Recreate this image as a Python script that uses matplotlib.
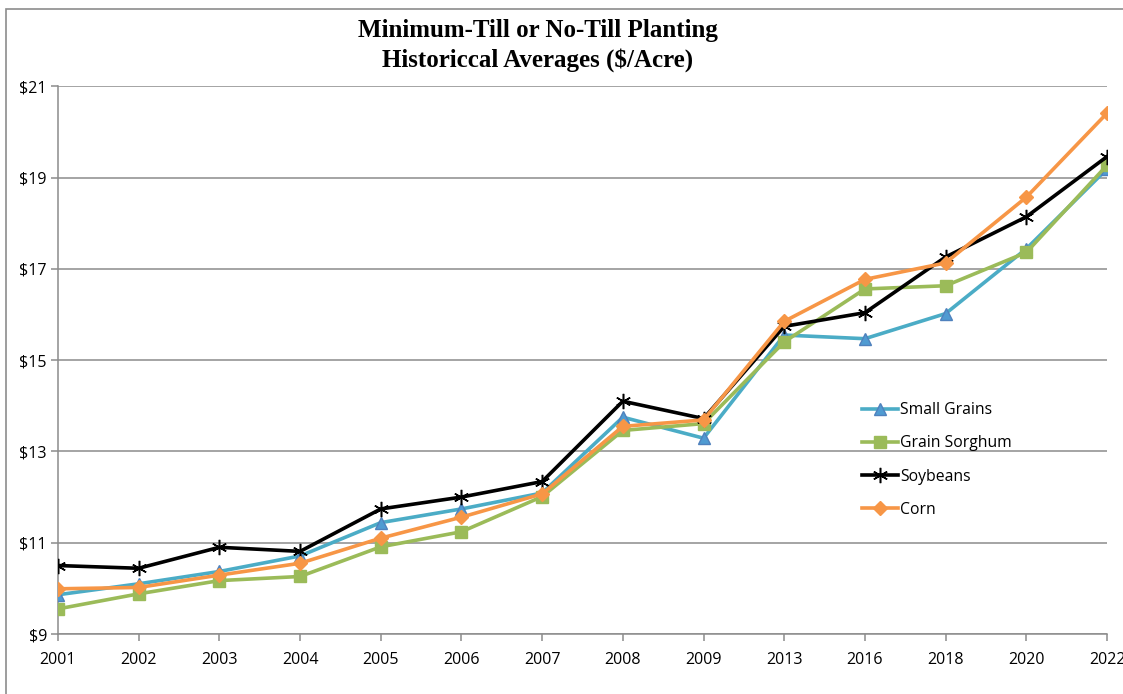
import numpy as np
import matplotlib
matplotlib.use('Agg')
import matplotlib.pyplot as plt
from matplotlib.patches import Rectangle
from matplotlib.ticker import FuncFormatter

#%% DATA
years = ['2001', '2002', '2003', '2004', '2005', '2006', '2007',
         '2008', '2009', '2013', '2016', '2018', '2020', '2022']

small_grains = [9.86, 10.10, 10.37, 10.71, 11.44, 11.74, 12.09,
                13.75, 13.29, 15.55, 15.47, 16.02, 17.44, 19.19]
grain_sorghum = [9.55, 9.88, 10.17, 10.26, 10.91, 11.24, 12.01,
                 13.46, 13.61, 15.40, 16.56, 16.63, 17.36, 19.27]
soybeans = [10.50, 10.44, 10.90, 10.81, 11.74, 12.00, 12.34,
            14.10, 13.72, 15.74, 16.04, 17.26, 18.14, 19.46]
corn = [9.99, 10.02, 10.29, 10.55, 11.10, 11.56, 12.07,
        13.55, 13.69, 15.85, 16.77, 17.13, 18.57, 20.41]

#%% PLOT
W, H = 1123, 694
fig = plt.figure(figsize=(W/100, H/100), dpi=100)

# chart border (clipped on right / bottom like the screenshot)
fig.patches.append(Rectangle((6/W, -0.05), 1.2, 1 - 9/H + 0.05, transform=fig.transFigure,
                             fill=False, edgecolor='#8c8c8c', linewidth=1.2))

ax = fig.add_axes([58/W, 1 - 634/H, (1107 - 58)/W, (634 - 86.3)/H])
x = np.arange(len(years))

lw = 2.6
ax.plot(x, small_grains, color='#4BACC6', lw=lw, marker='^', ms=9,
        mfc='#4F9BD2', mec='#4F81BD', mew=1, label='Small Grains', zorder=3)
ax.plot(x, grain_sorghum, color='#9BBB59', lw=lw, marker='s', ms=8.5,
        mfc='#9BBB59', mec='#9BBB59', label='Grain Sorghum', zorder=3)
ax.plot(x, soybeans, color='black', lw=lw, marker=(6, 2, 0), ms=11,
        mec='black', mew=1.1, label='Soybeans', zorder=4)
ax.plot(x, corn, color='#F79646', lw=lw, marker='D', ms=7,
        mfc='#F79646', mec='#F79646', label='Corn', zorder=5)

ax.set_xlim(0, len(years) - 1)
ax.set_ylim(9, 21)
ax.set_yticks(np.arange(9, 22, 2))
ax.yaxis.set_major_formatter(FuncFormatter(lambda v, p: '$%d' % v))
ax.set_xticks(x)
ax.set_xticklabels(years)

ax.grid(True, axis='y', color='#8c8c8c', linewidth=1.1)
ax.set_axisbelow(True)
for s in ['top', 'right']:
    ax.spines[s].set_visible(False)
for s in ['left', 'bottom']:
    ax.spines[s].set_color('#8c8c8c')
    ax.spines[s].set_linewidth(1.1)
ax.tick_params(axis='both', colors='#8c8c8c', length=5, width=1.1, labelcolor='black',
               labelsize=11.5)
ax.tick_params(axis='x', pad=8)
ax.tick_params(axis='y', pad=3)
for t in ax.get_xticklabels() + ax.get_yticklabels():
    t.set_family('Open Sans')

fig.text(538/W, 1 - 30/H, 'Minimum-Till or No-Till Planting', ha='center', va='center',
         family='Liberation Serif', fontweight='bold', fontsize=18)
fig.text(538/W, 1 - 60/H, 'Historiccal Averages ($/Acre)', ha='center', va='center',
         family='Liberation Serif', fontweight='bold', fontsize=18)

leg = ax.legend(loc='upper left', bbox_to_anchor=((848 - 58)/(1107 - 58), (634 - 388)/(634 - 86.3)),
                frameon=False, handlelength=2.3, handletextpad=0.1, labelspacing=1.1,
                prop={'family': 'Open Sans', 'size': 11.3})

fig.savefig('out.png', dpi=100)
